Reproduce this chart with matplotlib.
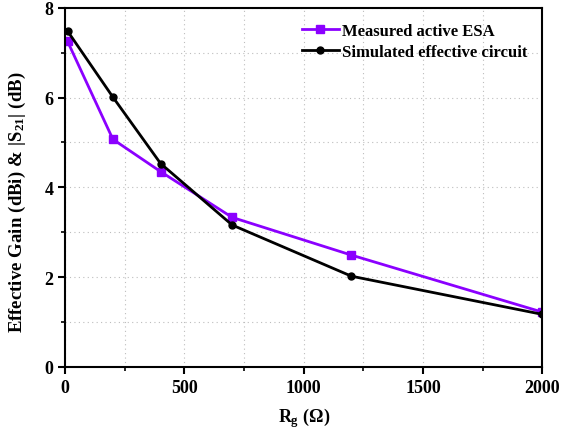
import matplotlib
matplotlib.use("Agg")
import matplotlib.pyplot as plt
from matplotlib.ticker import MultipleLocator

plt.rcParams['font.family'] = ['Liberation Serif', 'DejaVu Serif']
plt.rcParams['font.weight'] = 'bold'
plt.rcParams['mathtext.fontset'] = 'custom'
plt.rcParams['mathtext.rm'] = 'Liberation Serif:bold'
plt.rcParams['mathtext.it'] = 'Liberation Serif:bold'
plt.rcParams['mathtext.bf'] = 'Liberation Serif:bold'

# resistance values (ohm)
rg = [10, 200, 400, 700, 1200, 2000]
measured = [7.25, 5.07, 4.35, 3.33, 2.49, 1.22]
simulated = [7.48, 6.01, 4.53, 3.16, 2.02, 1.17]

fig = plt.figure(figsize=(5.62, 4.39), dpi=100)
ax = fig.add_axes([0.116, 0.162, 0.849, 0.818])

ax.plot(rg, measured, color='#8B00FF', linewidth=2, marker='s', markersize=6,
        label='Measured active ESA')
ax.plot(rg, simulated, color='black', linewidth=2, marker='o', markersize=5,
        label='Simulated effective circuit')

ax.set_xlim(0, 2000)
ax.set_ylim(0, 8)
ax.xaxis.set_major_locator(MultipleLocator(500))
ax.xaxis.set_minor_locator(MultipleLocator(250))
ax.yaxis.set_major_locator(MultipleLocator(2))
ax.yaxis.set_minor_locator(MultipleLocator(1))
ax.grid(True, which='both', linestyle=(0, (1, 3)), color='#bdbdbd', linewidth=0.8)
ax.set_axisbelow(True)

ax.tick_params(which='major', direction='out', length=5, width=1.5, labelsize=13)
ax.tick_params(which='minor', direction='out', length=3, width=1.2)
for s in ax.spines.values():
    s.set_linewidth(1.5)

ax.set_xlabel(r'$R_g\ (\Omega)$', fontsize=13, labelpad=7)
ax.set_ylabel(r'$Effective\ Gain\ (dBi)\ &\ |S_{21}|\ (dB)$', fontsize=13.5)
ax.yaxis.set_label_coords(-0.078, 0.46)

ax.legend(loc='upper right', frameon=False, fontsize=12, handlelength=2.2,
          handletextpad=0.2, borderaxespad=0.5, labelspacing=0.3)

fig.savefig('out.png', dpi=100)
